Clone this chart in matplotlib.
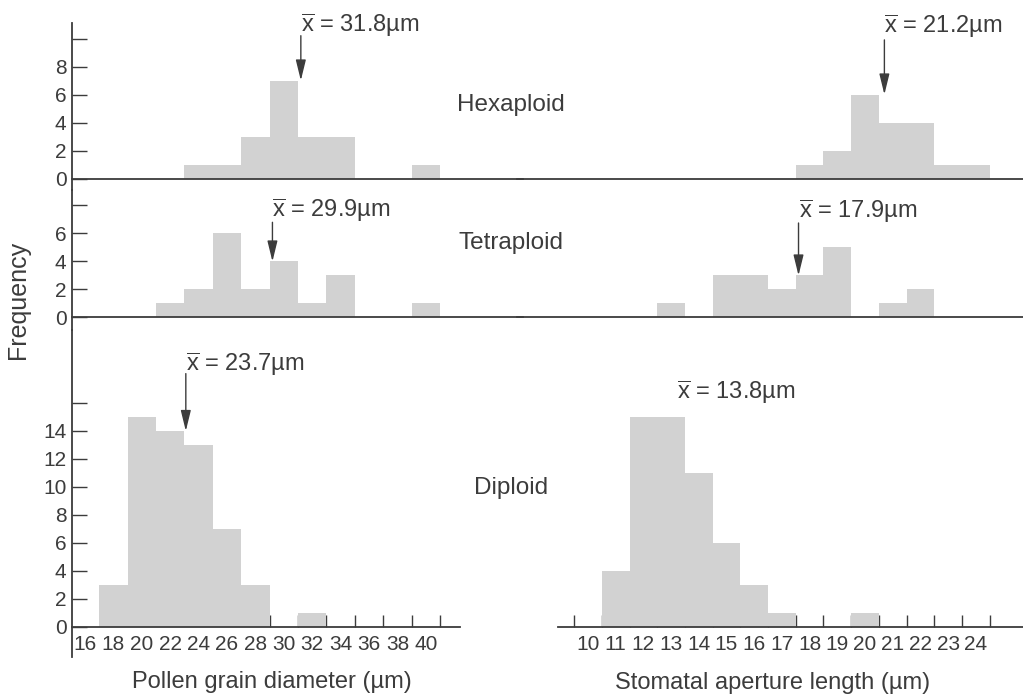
import matplotlib.pyplot as plt

plt.rcParams['font.family'] = ['Liberation Sans', 'DejaVu Sans']
plt.rcParams['mathtext.fontset'] = 'custom'
plt.rcParams['mathtext.rm'] = 'Liberation Sans'
plt.rcParams['mathtext.it'] = 'Liberation Sans:italic'
ink = '#3c3c3c'
bar_gray = '#d2d2d2'
plt.rcParams['text.color'] = ink
plt.rcParams['axes.edgecolor'] = ink
plt.rcParams['xtick.color'] = ink
plt.rcParams['ytick.color'] = ink

# pollen grain diameter (um), 2 um bins (centres) and counts
pollen_hex_x = [24, 26, 28, 30, 32, 34, 40]
pollen_hex_n = [1, 1, 3, 7, 3, 3, 1]
pollen_tet_x = [22, 24, 26, 28, 30, 32, 34, 40]
pollen_tet_n = [1, 2, 6, 2, 4, 1, 3, 1]
pollen_dip_x = [18, 20, 22, 24, 26, 28, 32]
pollen_dip_n = [3, 15, 14, 13, 7, 3, 1]

# stomatal aperture length (um), 1 um bins (centres) and counts
stoma_hex_x = [18, 19, 20, 21, 22, 23, 24]
stoma_hex_n = [1, 2, 6, 4, 4, 1, 1]
stoma_tet_x = [13, 15, 16, 17, 18, 19, 21, 22]
stoma_tet_n = [1, 3, 3, 2, 3, 5, 1, 2]
stoma_dip_x = [11, 12, 13, 14, 15, 16, 17, 20]
stoma_dip_n = [4, 15, 15, 11, 6, 3, 1, 1]

ploidy = ['Hexaploid', 'Tetraploid', 'Diploid']
pollen_means = ['31.8', '29.9', '23.7']
stoma_means = ['21.2', '17.9', '13.8']

pollen_ticklabels = [str(v) for v in range(16, 41, 2)]
stoma_ticklabels = [str(v) for v in range(10, 25)]

W, H = 1023, 697
fig = plt.figure(figsize=(W / 100, H / 100), dpi=100)


def add_ax(x0, x1, y0, y1, base, xl, xr):
    ax = fig.add_axes([x0 / W, 1 - y1 / H, (x1 - x0) / W, (y1 - y0) / H])
    ax.set_ylim(-(y1 - base) / 14.0, (base - y0) / 14.0)
    ax.set_xlim(xl, xr)
    ax.spines[['top', 'right']].set_visible(False)
    ax.spines['bottom'].set_position(('data', 0))
    ax.spines['bottom'].set_linewidth(1.3)
    ax.spines['left'].set_linewidth(1.3)
    ax.set_axisbelow(True)
    ax.patch.set_alpha(0)
    return ax


def px_left(p):
    return 16 + (p - 85) / 14.2


def px_right(p):
    return 10 + (p - 588) / 27.7


rows = [(23, 190, 178.5), (190, 330, 317.5), (330, 657, 627)]
ytops = [10, 8, 16]

pollen = [(pollen_hex_x, pollen_hex_n), (pollen_tet_x, pollen_tet_n), (pollen_dip_x, pollen_dip_n)]
stoma = [(stoma_hex_x, stoma_hex_n), (stoma_tet_x, stoma_tet_n), (stoma_dip_x, stoma_dip_n)]

# arrow x, arrow start, arrow tip, text baseline (data units) per panel
pollen_arrows = [(31.2, 10.2, 7.0, 10.45), (29.2, 6.8, 4.0, 7.2), (23.1, 18.1, 14.0, 18.3)]
stoma_arrows = [(20.7, 9.9, 6.0, 10.4), (17.6, 6.75, 3.0, 7.1), (None, None, None, 16.3)]
stoma_text_x = [20.7, 17.6, 13.2]

row_label_y = [105, 243, 488]
arrow_props = dict(arrowstyle='-|>,head_width=0.22,head_length=0.9', color=ink, lw=1,
                   mutation_scale=14, shrinkA=0, shrinkB=0)

for i in range(3):
    y0, y1, base = rows[i]
    bottom = i == 2
    lx1 = 460 if bottom else 523
    rx0 = 558 if bottom else 517
    axl = add_ax(72, lx1, y0, y1, base, px_left(72), px_left(lx1))
    axr = add_ax(rx0, 1023, y0, y1, base, px_right(rx0), px_right(1023))
    axr.spines['left'].set_visible(False)
    axr.set_yticks([])

    axl.bar(pollen[i][0], pollen[i][1], width=2, color=bar_gray, linewidth=0, zorder=2)
    axr.bar(stoma[i][0], stoma[i][1], width=1, color=bar_gray, linewidth=0, zorder=2)

    yt = list(range(0, ytops[i] + 1, 2))
    axl.set_yticks(yt, [str(v) for v in yt[:-1]] + [''])
    axl.tick_params(axis='y', direction='in', length=11, width=1, pad=4, labelsize=15)

    if bottom:
        axl.set_xticks(list(range(29, 42, 2)), [''] * 7)
        axl.set_xticks(list(range(16, 41, 2)), pollen_ticklabels, minor=True)
        axr.set_xticks([v + 0.5 for v in range(9, 25)], [''] * 16)
        axr.set_xticks(list(range(10, 25)), stoma_ticklabels, minor=True)
        for ax in (axl, axr):
            ax.tick_params(axis='x', which='major', direction='in', length=9, width=1)
            ax.tick_params(axis='x', which='minor', length=0, pad=6, labelsize=15)
    else:
        axl.set_xticks([])
        axr.set_xticks([])

    ax_x, a0, a1, ty = pollen_arrows[i]
    axl.annotate('', xy=(ax_x, a1), xytext=(ax_x, a0), arrowprops=arrow_props)
    axl.text(ax_x, ty, r'$\overline{\mathrm{x}}$ = ' + pollen_means[i] + '\u00b5m', ha='left',
             va='baseline', fontsize=17, clip_on=False)

    ax_x, a0, a1, ty = stoma_arrows[i]
    if ax_x is not None:
        axr.annotate('', xy=(ax_x, a1), xytext=(ax_x, a0), arrowprops=arrow_props)
    axr.text(stoma_text_x[i], ty, r'$\overline{\mathrm{x}}$ = ' + stoma_means[i] + '\u00b5m', ha='left',
             va='baseline', fontsize=17, clip_on=False)

    fig.text(511 / W, 1 - row_label_y[i] / H, ploidy[i], ha='center', va='center', fontsize=17.5)

fig.text(18 / W, 1 - 300 / H, 'Frequency', rotation=90, ha='center', va='center', fontsize=18)
fig.text(272 / W, 1 - 682 / H, 'Pollen grain diameter (\u00b5m)', ha='center', va='center', fontsize=17)
fig.text(773 / W, 1 - 683 / H, 'Stomatal aperture length (\u00b5m)', ha='center', va='center', fontsize=17)

fig.savefig('out.png', dpi=100)
